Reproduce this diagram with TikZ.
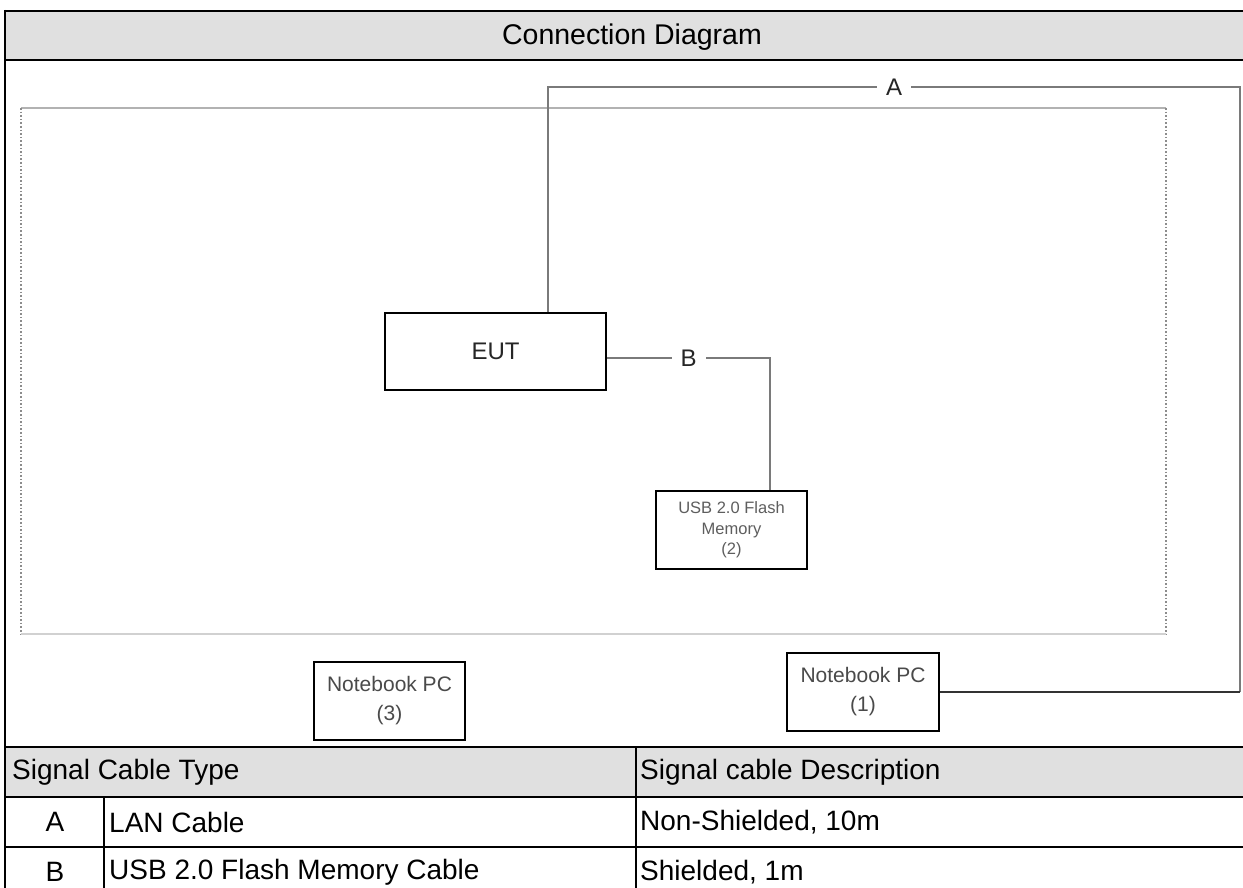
\documentclass[tikz,border=0pt]{standalone}
\usepackage{fontspec}
\setmainfont{Liberation Sans}
\definecolor{hdrgray}{HTML}{E0E0E0}
\definecolor{labelgray}{HTML}{262626}
\definecolor{boxgray}{HTML}{4A4A4A}
\definecolor{smallgray}{HTML}{5E5E5E}
\definecolor{cablegray}{HTML}{7A7A7A}
\tikzset{
  frameline/.style={draw=black, line width=2.6pt},
  thinframe/.style={draw=black, line width=2pt},
  devbox/.style={draw=black, line width=2pt, fill=white, rectangle, inner sep=0pt, align=center, font=\fontsize{21}{29}\selectfont, text=boxgray},
  eutbox/.style={devbox, font=\fontsize{24}{28}\selectfont, text=labelgray},
  smallbox/.style={devbox, font=\fontsize{16.5}{20.5}\selectfont, text=smallgray},
  cableA/.style={draw=cablegray, line width=1.4pt},
  cableB/.style={draw=black!80, line width=1.4pt},
  lbl/.style={fill=white, inner xsep=9pt, inner ysep=4pt, text=labelgray, font=\fontsize{24}{28}\selectfont},
  tabtext/.style={font=\fontsize{28}{32}\selectfont, inner sep=0pt, text=black},
  titletext/.style={font=\fontsize{28.5}{32}\selectfont, inner sep=0pt}
}
\begin{document}
\begin{tikzpicture}[x=1pt, y=-1pt]
\useasboundingbox (0,0) rectangle (1243,888);
% title bar and table header fills
\fill[hdrgray] (5,11) rectangle (1243,60);
\fill[hdrgray] (5,747) rectangle (1243,797);
% test area rectangle
\draw[draw=black!30, line width=2pt] (21,108) -- (1166,108);
\draw[draw=black!45, line width=1.6pt, dotted] (21,108) -- (21,634);
\draw[draw=black!45, line width=1.6pt, dotted] (1166,108) -- (1166,634);
\draw[draw=black!18, line width=2pt] (21,634) -- (1166,634);
% outer frame lines
\draw[frameline] (4,11) -- (1243,11);
\draw[frameline] (5,10) -- (5,888);
\draw[frameline] (5,60) -- (1243,60);
\draw[frameline] (5,747) -- (1243,747);
\draw[thinframe] (5,797) -- (1243,797);
\draw[thinframe] (5,847) -- (1243,847);
\draw[thinframe] (636,747) -- (636,888);
\draw[thinframe] (104,797) -- (104,888);
% title
\node[titletext] (title) at (632,37) {Connection Diagram};
% devices
\node[eutbox, minimum width=221pt, minimum height=77pt] (EUT) at (495.5,351.5) {EUT};
\node[smallbox, minimum width=151pt, minimum height=78pt] (USB) at (731.5,530) {USB 2.0 Flash\\Memory\\(2)};
\node[devbox, minimum width=151pt, minimum height=78pt] (NB3) at (389.5,701) {Notebook PC\\(3)};
\node[devbox, minimum width=152pt, minimum height=78pt] (NB1) at (863,692) {Notebook PC\\(1)};
% cable A
\coordinate (ca1) at (548,87);
\coordinate (ca2) at (1240,87);
\coordinate (ca3) at (1240,692);
\draw[cableA] (EUT.north -| ca1) -- (ca1) -- node[lbl] (labA) {A} (ca2) -- (ca3);
\draw[cableB] (ca3) -- (NB1.east |- ca3);
% cable B
\coordinate (cb) at (770,358);
\draw[cableA] (EUT.east |- cb) -- node[lbl] (labB) {B} (cb) -- (USB.north -| cb);
% table text
\node[tabtext, anchor=west] (h1) at (12,772) {Signal Cable Type};
\node[tabtext, anchor=west] (h2) at (640,772) {Signal cable Description};
\node[tabtext] (ra) at (55,822) {A};
\node[tabtext, anchor=west] (ra2) at (109,822) {LAN Cable};
\node[tabtext, anchor=west] (ra3) at (640,822) {Non-Shielded, 10m};
\node[tabtext] (rb) at (55,872) {B};
\node[tabtext, anchor=west] (rb2) at (109,872) {USB 2.0 Flash Memory Cable};
\node[tabtext, anchor=west] (rb3) at (640,872) {Shielded, 1m};
\end{tikzpicture}
\end{document}
